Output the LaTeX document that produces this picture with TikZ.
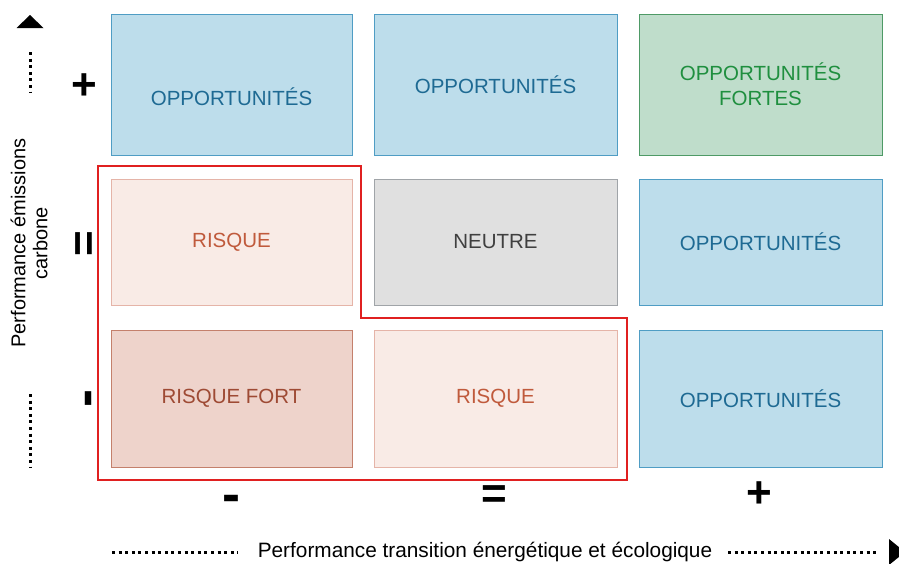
\documentclass[tikz,border=0pt]{standalone}
\usepackage{fontspec}
\setmainfont{Liberation Sans}
\usetikzlibrary{calc}
\definecolor{bluefill}{HTML}{BDDDEB}
\definecolor{bluedraw}{HTML}{4F9DC4}
\definecolor{bluetext}{HTML}{1E6A93}
\definecolor{greenfill}{HTML}{BFDDCB}
\definecolor{greendraw}{HTML}{4E9A66}
\definecolor{greentext}{HTML}{1F8F3F}
\definecolor{greyfill}{HTML}{E0E0E0}
\definecolor{greydraw}{HTML}{A0A4A8}
\definecolor{greytext}{HTML}{404040}
\definecolor{riskfill}{HTML}{F9EBE6}
\definecolor{riskdraw}{HTML}{E5B4A8}
\definecolor{risktext}{HTML}{C05A3C}
\definecolor{strongfill}{HTML}{EED3CB}
\definecolor{strongdraw}{HTML}{C4806C}
\definecolor{strongtext}{HTML}{9E4A34}
\definecolor{redline}{HTML}{E02020}
\tikzset{
  cell/.style={draw, line width=1pt, inner sep=0pt, align=center,
    font=\fontsize{20.5}{25}\selectfont},
  oppcell/.style={cell, fill=bluefill, draw=bluedraw, text=bluetext},
  strongopp/.style={cell, fill=greenfill, draw=greendraw, text=greentext},
  neutcell/.style={cell, fill=greyfill, draw=greydraw, text=greytext},
  riskcell/.style={cell, fill=riskfill, draw=riskdraw, text=risktext},
  strongrisk/.style={cell, fill=strongfill, draw=strongdraw, text=strongtext},
  c1/.style={minimum width=241pt}, c2/.style={minimum width=243pt}, c3/.style={minimum width=243pt},
  r1/.style={minimum height=141pt}, r2/.style={minimum height=126pt}, r3/.style={minimum height=137pt},
  sign/.style={inner sep=0pt, font=\fontsize{44}{44}\selectfont\bfseries},
  dashsign/.style={inner sep=0pt, font=\fontsize{54}{54}\selectfont\bfseries},
  axislabel/.style={inner sep=0pt, align=center, font=\fontsize{20}{22}\selectfont},
  dots/.style={line width=3pt, dash pattern=on 3pt off 3.6pt},
}
\begin{document}
\begin{tikzpicture}[x=1pt,y=-1pt]
\useasboundingbox (0,0) rectangle (899,563);
% row 1
\node[oppcell,c1,r1] (b11) at (231.5,84.5) {};
\node[inner sep=0pt, text=bluetext, font=\fontsize{20.5}{25}\selectfont] (t11) at (231.5,97) {OPPORTUNITÉS};
\node[oppcell,c2,r1] (b12) at (495.5,84.5) {OPPORTUNITÉS};
\node[strongopp,c3,r1] (b13) at (760.5,84.5) {OPPORTUNITÉS\\FORTES};
% row 2
\node[riskcell,c1,r2] (b21) at (231.5,242) {RISQUE};
\node[neutcell,c2,r2] (b22) at (495.5,242) {NEUTRE};
\node[oppcell,c3,r2] (b23) at (760.5,242) {OPPORTUNITÉS};
% row 3
\node[strongrisk,c1,r3] (b31) at (231.5,398.5) {RISQUE FORT};
\node[riskcell,c2,r3] (b32) at (495.5,398.5) {RISQUE};
\node[oppcell,c3,r3] (b33) at (760.5,398.5) {OPPORTUNITÉS};
% red outline
\draw[redline, line width=1.6pt] (98,166) -- (361,166) -- (361,318) -- (627,318) -- (627,480) -- (98,480) -- cycle;
% y signs
\node[sign] (yplus) at (84,87) {+};
\node[sign, rotate=90] (yeq) at (87.5,243.5) {=};
\node[dashsign, rotate=90] (yminus) at (94,399) {-};
% x signs
\node[dashsign] (xminus) at (231,503.5) {-};
\node[sign] (xeq) at (494.5,497.5) {=};
\node[sign] (xplus) at (759.5,495) {+};
% y axis
\coordinate (ya1) at (30,52);
\coordinate (ya2) at (30,92);
\coordinate (yb1) at (30,394);
\coordinate (yb2) at (30,467);
\draw[dots] (ya1) -- (ya2);
\draw[dots] (yb1) -- (yb2);
\fill (30,15) -- (43.5,28) -- (16.5,28) -- cycle;
\node[axislabel, rotate=90] (ylab) at (29,243) {Performance émissions\\carbone};
% x axis
\node[axislabel, font=\fontsize{20.8}{22}\selectfont] (xlab) at (485,552) {Performance transition énergétique et écologique};
\coordinate (xa1) at (112,552);
\coordinate (xa2) at (238,552);
\coordinate (xb1) at (728,552);
\coordinate (xb2) at (878,552);
\draw[dots] (xa1) -- (xa2);
\draw[dots] (xb1) -- (xb2);
\fill (889,539) -- (905,552) -- (889,565) -- cycle;
\end{tikzpicture}
\end{document}
